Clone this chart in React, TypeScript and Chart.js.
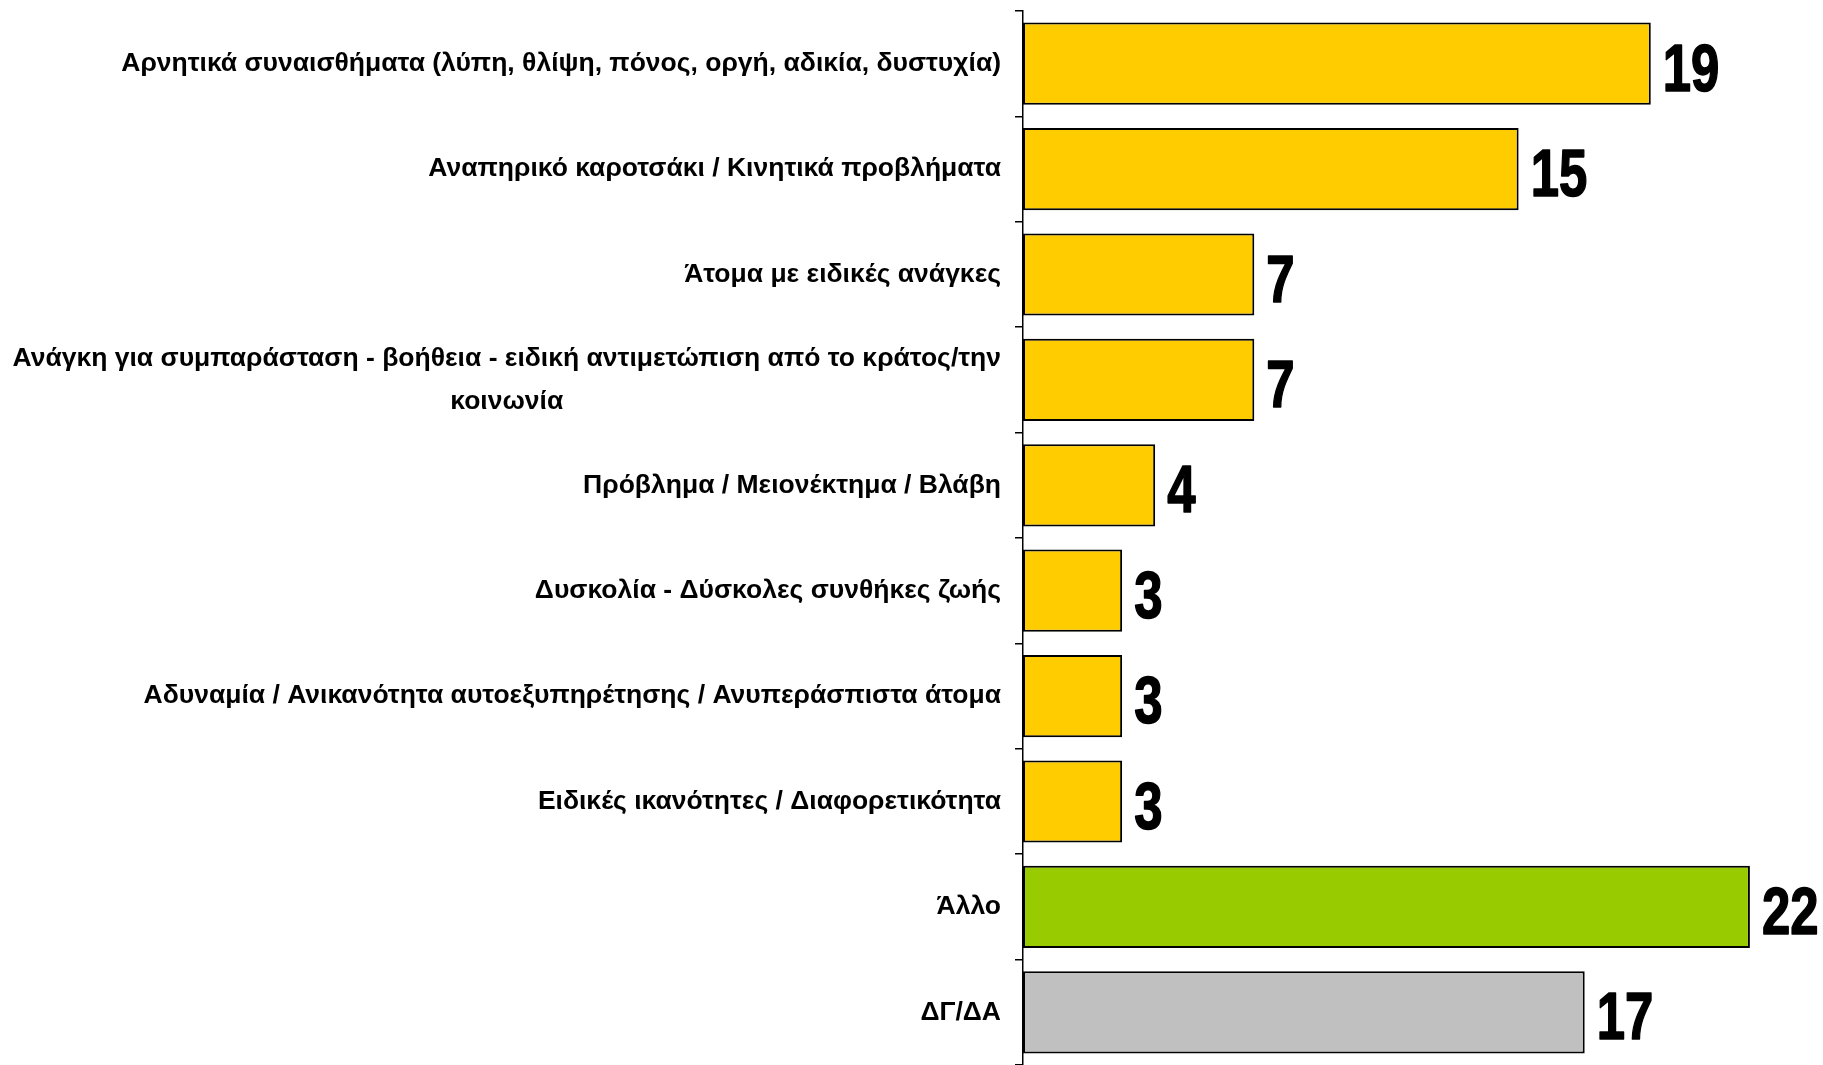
import React, { useEffect, useRef } from "react";
import { Chart, registerables } from "chart.js";

Chart.register(...registerables);

const categories: string[][] = [
  ["Αρνητικά συναισθήματα (λύπη, θλίψη, πόνος, οργή, αδικία, δυστυχία)"],
  ["Αναπηρικό καροτσάκι / Κινητικά προβλήματα"],
  ["Άτομα με ειδικές ανάγκες"],
  ["Ανάγκη για συμπαράσταση - βοήθεια - ειδική αντιμετώπιση από το κράτος/την", "κοινωνία"],
  ["Πρόβλημα / Μειονέκτημα / Βλάβη"],
  ["Δυσκολία - Δύσκολες συνθήκες ζωής"],
  ["Αδυναμία / Ανικανότητα αυτοεξυπηρέτησης / Ανυπεράσπιστα άτομα"],
  ["Ειδικές ικανότητες / Διαφορετικότητα"],
  ["Άλλο"],
  ["ΔΓ/ΔΑ"],
];

const values: number[] = [19, 15, 7, 7, 4, 3, 3, 3, 22, 17];

const barColors: string[] = [
  "#FFCC00", "#FFCC00", "#FFCC00", "#FFCC00", "#FFCC00",
  "#FFCC00", "#FFCC00", "#FFCC00", "#99CC00", "#C0C0C0",
];

const LABEL_FONT = "bold 26.5px 'Liberation Sans', Arial, sans-serif";
const VALUE_FONT = "bold 67px 'Liberation Sans', Arial, sans-serif";

const labelPlugin = {
  id: "customLabels",
  afterDraw(chart: any) {
    const ctx = chart.ctx as CanvasRenderingContext2D;
    const yScale = chart.scales.y;
    const rightX = yScale.right - 22;
    ctx.save();
    ctx.font = LABEL_FONT;
    ctx.fillStyle = "#000";
    ctx.textBaseline = "middle";
    categories.forEach((lines, i) => {
      const cy = yScale.getPixelForValue(i);
      const lh = 43;
      const startY = cy - ((lines.length - 1) * lh) / 2;
      if (lines.length === 1) {
        ctx.textAlign = "right";
        ctx.fillText(lines[0], rightX, cy);
      } else {
        const maxW = Math.max(...lines.map((l) => ctx.measureText(l).width));
        ctx.textAlign = "center";
        lines.forEach((l, j) => {
          ctx.fillText(l, rightX - maxW / 2, startY + j * lh);
        });
      }
    });
    ctx.restore();
  },
};

const valuePlugin = {
  id: "valueLabels",
  afterDatasetsDraw(chart: any) {
    const ctx = chart.ctx as CanvasRenderingContext2D;
    const meta = chart.getDatasetMeta(0);
    ctx.save();
    ctx.font = VALUE_FONT;
    ctx.fillStyle = "#000";
    ctx.strokeStyle = "#000";
    ctx.lineWidth = 1.6;
    ctx.lineJoin = "round";
    ctx.textAlign = "left";
    ctx.textBaseline = "alphabetic";
    meta.data.forEach((el: any, i: number) => {
      const x = el.x + 12;
      const y = el.y + 27;
      ctx.save();
      ctx.translate(x, y);
      ctx.scale(0.76, 1);
      ctx.fillText(String(values[i]), 0, 0);
      ctx.strokeText(String(values[i]), 0, 0);
      ctx.restore();
    });
    ctx.restore();
  },
};

export default function App() {
  const canvasRef = useRef<HTMLCanvasElement | null>(null);

  useEffect(() => {
    if (!canvasRef.current) return;
    const chart = new Chart(canvasRef.current, {
      type: "bar",
      data: {
        labels: categories.map((c) => c.join(" ")),
        datasets: [
          {
            data: values,
            backgroundColor: barColors,
            borderColor: "#000",
            borderWidth: 2,
            borderSkipped: false,
            barPercentage: 0.78,
            categoryPercentage: 1,
          },
        ],
      },
      options: {
        indexAxis: "y",
        animation: false,
        responsive: true,
        maintainAspectRatio: false,
        layout: { padding: { top: 11, right: 7, bottom: 0, left: 0 } },
        plugins: {
          legend: { display: false },
          tooltip: { enabled: false },
        },
        scales: {
          x: {
            display: false,
            min: 0,
            max: 24,
          },
          y: {
            type: "category",
            afterFit(scale: any) {
              scale.width = 1023;
            },
            ticks: { display: false },
            grid: {
              offset: true,
              drawOnChartArea: false,
              drawTicks: true,
              tickLength: 8,
              color: "#000",
              lineWidth: 1.5,
            },
            border: { display: true, color: "#000", width: 1.5 },
          },
        },
      },
      plugins: [labelPlugin, valuePlugin],
    });
    return () => chart.destroy();
  }, []);

  return (
    <div style={{ position: "fixed", left: 0, top: 0, width: "1823px", height: "1065px", background: "#fff" }}>
      <canvas ref={canvasRef} />
    </div>
  );
}
